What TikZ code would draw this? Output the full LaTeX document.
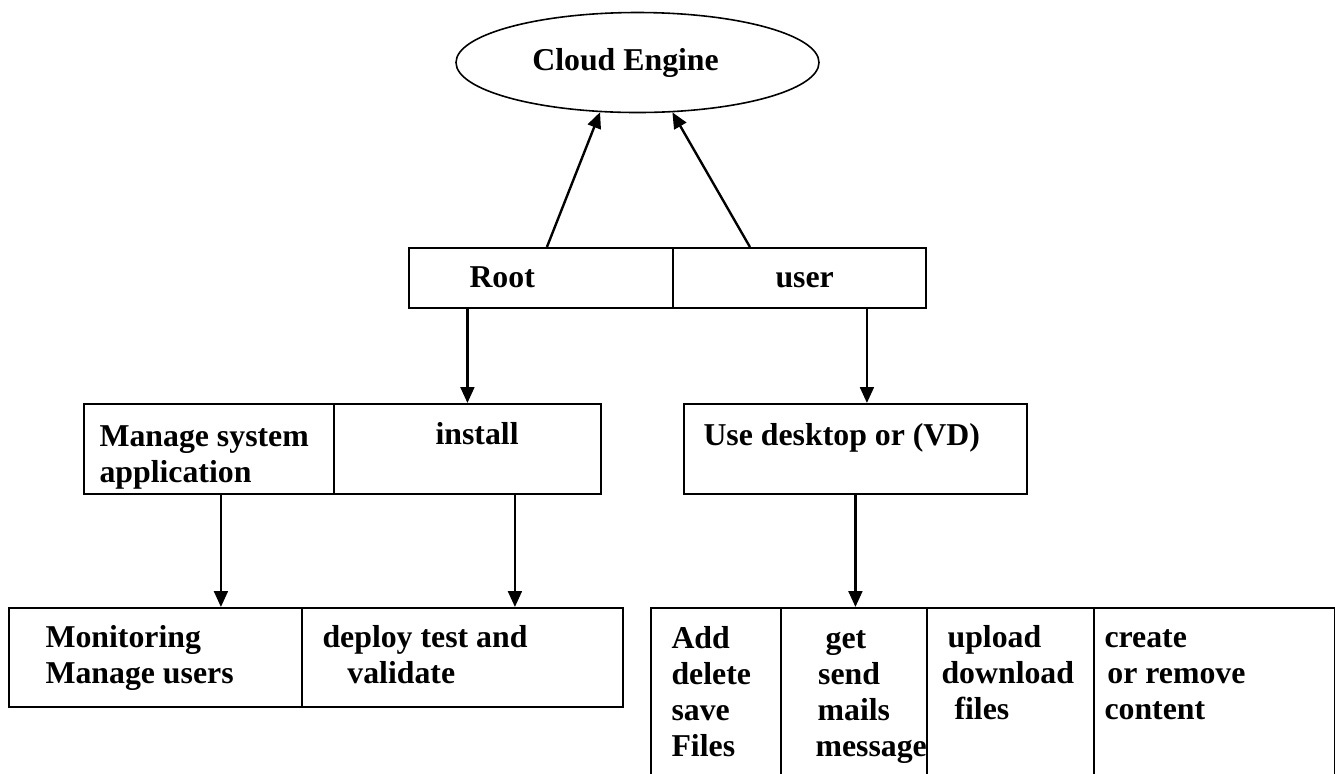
\documentclass[tikz,border=0pt]{standalone}
\usepackage{fontspec}
\setmainfont{Liberation Serif}
\usetikzlibrary{arrows.meta, calc, positioning, shapes.geometric}
\newdimen\px
\px=0.3774pt
\newcommand{\cellfont}{\fontsize{12}{13.6}\selectfont\bfseries}

\begin{document}
\begin{tikzpicture}[x=\px, y=-\px,
    cell/.style={draw, rectangle, anchor=north west, inner sep=0pt, line width=0.7pt},
    txt/.style={anchor=north west, inner sep=0pt, align=left, font=\cellfont},
    arr/.style={-{Triangle[length=6pt, width=5.2pt]}, line width=0.9pt}]
    \useasboundingbox (0,0) rectangle (1335,773);
    \clip (0,0) rectangle (1335,773);

    \node[draw, ellipse, minimum width=363\px, minimum height=100\px, inner sep=0pt, line width=0.6pt, font=\cellfont] (cloud) at (637.5, 62.5) {Cloud Engine\hspace*{9pt}};

    \node[cell, minimum width=264\px, minimum height=60\px] (root) at (408, 247) {};
    \node[cell, minimum width=253\px, minimum height=60\px] (user) at (672, 247) {};
    \node[cell, minimum width=250\px, minimum height=90\px] (manage) at (83, 403) {};
    \node[cell, minimum width=267\px, minimum height=90\px] (install) at (333, 403) {};
    \node[cell, minimum width=343\px, minimum height=90\px] (desktop) at (683, 403) {};
    \node[cell, minimum width=293\px, minimum height=99\px] (monitor) at (8, 607) {};
    \node[cell, minimum width=321\px, minimum height=99\px] (deploy) at (301, 607) {};
    \node[cell, minimum width=130\px, minimum height=220\px] (files) at (650, 607) {};
    \node[cell, minimum width=146\px, minimum height=220\px] (mail) at (780, 607) {};
    \node[cell, minimum width=167\px, minimum height=220\px] (upload) at (926, 607) {};
    \node[cell, minimum width=241\px, minimum height=220\px] (content) at (1093, 607) {};

    \node[txt] (rootText) at (469, 261.8) {\strut Root};
    \node[txt] (userText) at (775, 261.8) {\strut user};
    \node[txt] (manageText) at (99, 421) {\strut Manage system\\application};
    \node[txt] (installText) at (435, 419) {\strut install};
    \node[txt] (desktopText) at (703, 420) {\strut Use desktop or (VD)};
    \node[txt] (monitorText) at (45, 622) {\strut Monitoring\\Manage users};
    \node[txt] (deployText) at (322, 622) {\strut deploy test and\\\hspace*{9.4pt}validate};
    \node[txt] (filesText) at (671, 623) {\strut Add\\delete\\save\\Files};
    \node[txt] (mailText) at (815, 623) {\strut\hspace*{3.8pt}get\\\hspace*{1pt}send\\\hspace*{0.8pt}mails\\message};
    \node[txt] (uploadText) at (941, 622) {\strut\hspace*{2.3pt}upload\\download\\\hspace*{4.9pt}files};
    \node[txt] (contentText) at (1104, 622) {\strut create\\\hspace*{1.1pt}or remove\\content};

    \draw[arr] ($(root.north)+(6,0)$) -- (cloud.233);
    \draw[arr] ($(user.north)+(-49.5,0)$) -- (cloud.305);
    \draw[arr] (root.south -| install.north) -- (install.north);
    \draw[arr] ($(user.south)+(67.5,0)$) coordinate (u) -- (u |- desktop.north);
    \draw[arr] ($(manage.south)+(12,0)$) coordinate (m) -- (m |- monitor.north);
    \draw[arr] ($(install.south)+(47.5,0)$) coordinate (i) -- (i |- deploy.north);
    \draw[arr] (desktop.south) -- (desktop.south |- mail.north);
\end{tikzpicture}
\end{document}
